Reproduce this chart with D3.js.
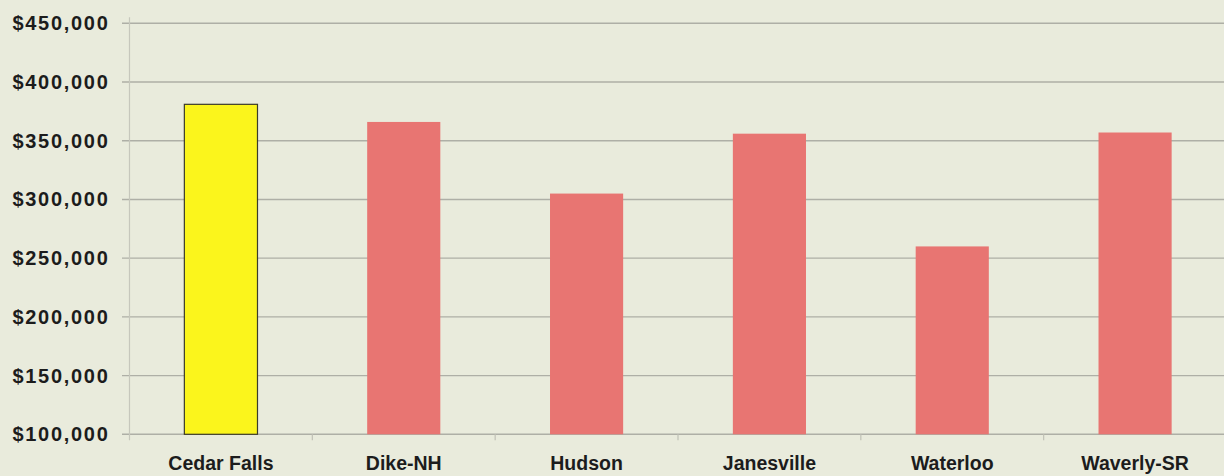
<!DOCTYPE html>
<html>
<head>
<meta charset="utf-8">
<script src="https://cdn.jsdelivr.net/npm/d3@7"></script>
<style>
  html, body { margin: 0; padding: 0; background: #e9ebdc; }
  svg { display: block; }
</style>
</head>
<body>
<svg id="chart" width="1224" height="476"></svg>
<script>
// Median home value by community
const categories = ["Cedar Falls", "Dike-NH", "Hudson", "Janesville", "Waterloo", "Waverly-SR"];
const values = [381000, 366000, 305000, 356000, 260000, 357000];
const highlight = ["Cedar Falls"];
const tickValues = [100000, 150000, 200000, 250000, 300000, 350000, 400000, 450000];

const width = 1224, height = 476;
const svg = d3.select("#chart");

svg.append("rect").attr("width", width).attr("height", height).attr("fill", "#e9ebdc");

const x = d3.scaleBand()
  .domain(categories)
  .range([129.5, 1226.5])
  .paddingInner(0.6)
  .paddingOuter(0.3);

const y = d3.scaleLinear()
  .domain([100000, 450000])
  .range([434.3, 23.3]);

const fmt = d => "$" + d3.format(",")(d);

// horizontal gridlines with short ticks left of the axis
svg.append("g").selectAll("line")
  .data(tickValues)
  .join("line")
  .attr("x1", 122)
  .attr("x2", width)
  .attr("y1", d => y(d))
  .attr("y2", d => y(d))
  .attr("stroke", "#aeafa6")
  .attr("stroke-width", 1.4);

// vertical axis line
svg.append("line")
  .attr("x1", 129.5).attr("x2", 129.5)
  .attr("y1", y(450000) - 6).attr("y2", y(100000) + 6)
  .attr("stroke", "#c6c7bc")
  .attr("stroke-width", 1.2);

// category separator ticks on the baseline
const bounds = categories.slice(1).map(c => x(c) - x.step() * x.paddingInner() / 2);
svg.append("g").selectAll("line")
  .data(bounds)
  .join("line")
  .attr("x1", d => d).attr("x2", d => d)
  .attr("y1", y(100000)).attr("y2", y(100000) + 6)
  .attr("stroke", "#c0c1b6")
  .attr("stroke-width", 1.2);

// y tick labels
svg.append("g").selectAll("text")
  .data(tickValues)
  .join("text")
  .attr("x", 109.5)
  .attr("y", d => y(d) + 7)
  .attr("text-anchor", "end")
  .attr("font-family", "Liberation Sans, Arial, sans-serif")
  .attr("font-weight", "bold")
  .attr("font-size", 20)
  .attr("letter-spacing", 1.7)
  .attr("fill", "#1c1c1c")
  .text(fmt);

// bars
svg.append("g").selectAll("rect")
  .data(categories.map((c, i) => ({ c, v: values[i] })))
  .join("rect")
  .attr("x", d => x(d.c))
  .attr("y", d => y(d.v))
  .attr("width", x.bandwidth())
  .attr("height", d => y(100000) - y(d.v))
  .attr("fill", d => highlight.includes(d.c) ? "#fbf51c" : "#e87572")
  .attr("stroke", d => highlight.includes(d.c) ? "#3a3a2a" : "none")
  .attr("stroke-width", 1.2);

// category labels
svg.append("g").selectAll("text")
  .data(categories)
  .join("text")
  .attr("x", d => x(d) + x.bandwidth() / 2)
  .attr("y", 469.5)
  .attr("text-anchor", "middle")
  .attr("font-family", "Liberation Sans, Arial, sans-serif")
  .attr("font-weight", "bold")
  .attr("font-size", 19.5)
  .attr("fill", "#1c1c1c")
  .text(d => d);
</script>
</body>
</html>
